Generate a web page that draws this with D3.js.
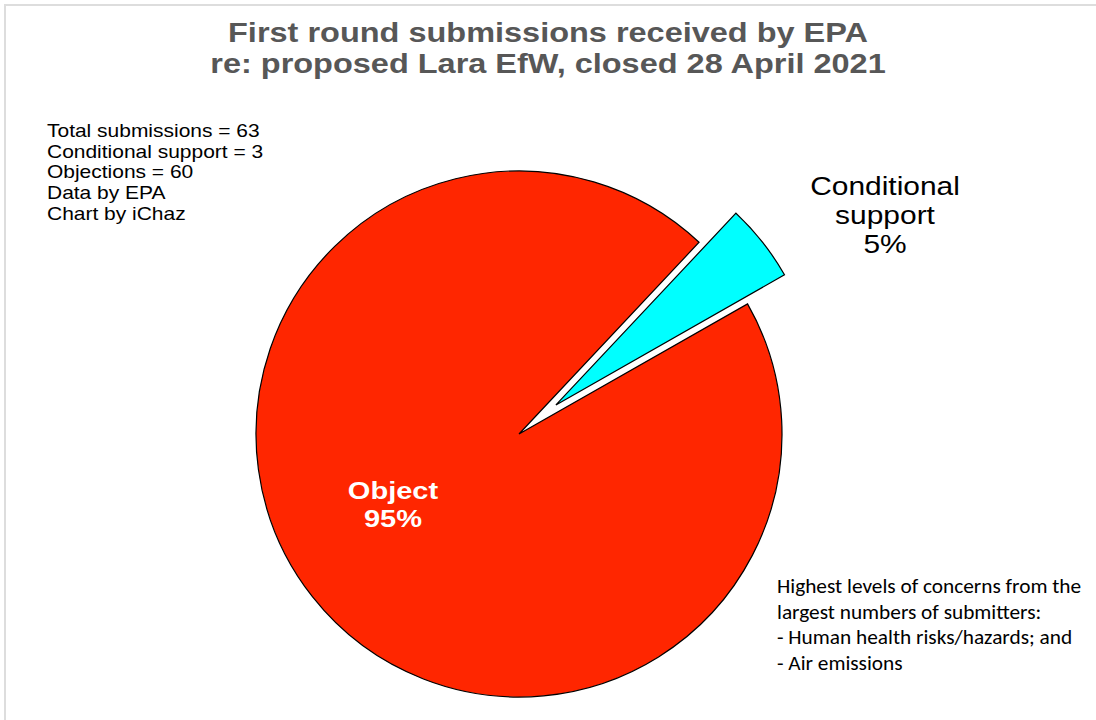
<!DOCTYPE html>
<html>
<head>
<meta charset="utf-8">
<script src="https://cdn.jsdelivr.net/npm/d3@7"></script>
<style>
  html, body { margin: 0; padding: 0; background: #fff; }
  svg { display: block; }
</style>
</head>
<body>
<svg id="chart" width="1096" height="720"></svg>
<script>
const categories = ["Conditional support", "Object"];
const values = [3, 60];
const sliceLabels = [["Conditional", "support", "5%"], ["Object", "95%"]];
const titleLines = ["First round submissions received by EPA", "re: proposed Lara EfW, closed 28 April 2021"];
const infoLines = ["Total submissions = 63", "Conditional support = 3", "Objections = 60", "Data by EPA", "Chart by iChaz"];
const noteLines = ["Highest levels of concerns from the", "largest numbers of submitters:", "- Human health risks/hazards; and", "- Air emissions"];
const colors = ["#00FFFF", "#FF2600"];

const svg = d3.select("#chart");
const W = 1096, H = 720;
const sans = "'Liberation Sans', Arial, Helvetica, sans-serif";

// light frame
svg.append("rect").attr("x", 5).attr("y", 5).attr("width", W + 20).attr("height", H + 20)
  .attr("fill", "#fff").attr("stroke", "#dddddd").attr("stroke-width", 2);

// helper: block of lines, horizontally widened to imitate Helvetica proportions
function block(lines, x, y0, dy, opts) {
  svg.append("g").selectAll("text").data(lines).join("text")
    .attr("transform", (d, i) => `translate(${x},${y0 + i * dy}) scale(${opts.sx || 1},1)`)
    .attr("text-anchor", opts.anchor || "start")
    .attr("font-family", opts.family || sans)
    .attr("font-weight", opts.weight || "normal")
    .attr("font-size", opts.size)
    .attr("fill", opts.fill || "#000")
    .text(d => d);
}

// title
block(titleLines, 548, 41.5, 31.5, { anchor: "middle", weight: "bold", size: 28, sx: 1.16, fill: "#575757" });

// info block
block(infoLines, 47, 137, 20.7, { size: 18.4, sx: 1.14 });

// note block
block(noteLines, 777, 593, 25.5, { size: 21, sx: 1.015, family: "Carlito, Lato, 'Open Sans', sans-serif" });

// pie
const cx = 519, cy = 434, R = 263, explode = 47;
const startA = 43.2 * Math.PI / 180;
const pie = d3.pie().sort(null).startAngle(startA).endAngle(startA + 2 * Math.PI);
const arcs = pie(values);
const arc = d3.arc().innerRadius(0).outerRadius(R);

const g = svg.append("g").attr("transform", `translate(${cx},${cy})`);
g.selectAll("path").data(arcs).join("path")
  .attr("d", arc)
  .attr("transform", (d, i) => {
    if (i !== 0) return null;
    const m = (d.startAngle + d.endAngle) / 2;
    return `translate(${explode * Math.sin(m)},${-explode * Math.cos(m)})`;
  })
  .attr("fill", (d, i) => colors[i])
  .attr("stroke", "#000").attr("stroke-width", 1.2)
  .attr("stroke-linejoin", "miter");

// Conditional support label (outside)
block(sliceLabels[0], 885, 195, 29, { anchor: "middle", size: 25.8, sx: 1.16 });

// Object label (inside)
block(sliceLabels[1], 393, 498.5, 28, { anchor: "middle", weight: "bold", size: 24.8, sx: 1.17, fill: "#fff" });
</script>
</body>
</html>
